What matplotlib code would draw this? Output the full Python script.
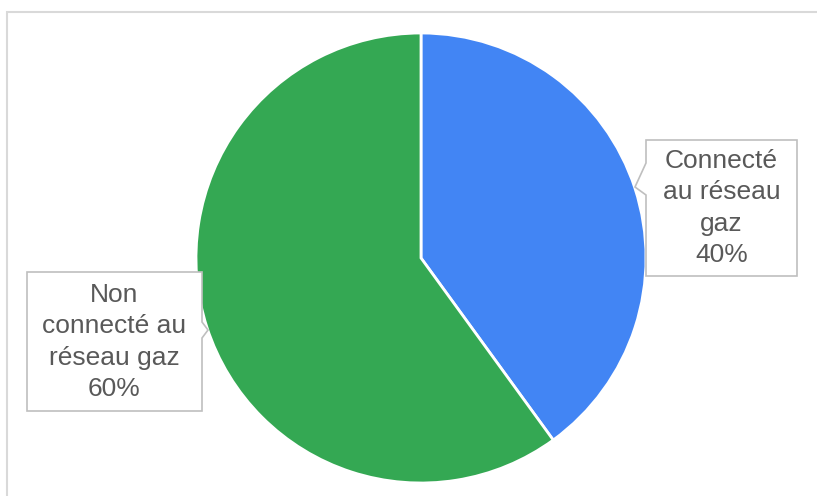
import matplotlib
matplotlib.use('Agg')
import matplotlib.pyplot as plt
from matplotlib.patches import Polygon, Rectangle

# Data
labels = ['Connecté\nau réseau\ngaz\n40%', 'Non\nconnecté au\nréseau gaz\n60%']
values = [40, 60]
colors = ['#4285F4', '#34A853']

W, H = 817, 496
TEXT = '#595959'
BORDER = '#BFBFBF'

fig = plt.figure(figsize=(W / 100, H / 100), dpi=100)
ax = fig.add_axes([0, 0, 1, 1])

ax.pie(values, colors=colors, startangle=90, counterclock=False,
       center=(421, H - 258), radius=225,
       wedgeprops=dict(edgecolor='white', linewidth=2))

# pie() resets the limits, so set them afterwards
ax.set_xlim(0, W)
ax.set_ylim(0, H)
ax.set_aspect('equal')
ax.axis('off')

# outer chart border (image coords -> y flipped)
ax.add_patch(Rectangle((7, -20), W + 20, H - 12 + 20, fill=False,
                       edgecolor='#D9D9D9', linewidth=1.5, zorder=0))


def callout(left, right, top, bottom, notch, text, text_y):
    # notch: list of (x, y) image-coord points inserted in the outline
    pts = [(left, top), (right, top)]
    if notch[0][0] >= right - 1:
        pts += notch
    pts += [(right, bottom), (left, bottom)]
    if notch[0][0] <= left + 1:
        pts += notch[::-1]
    pts = [(x, H - y) for x, y in pts]
    ax.add_patch(Polygon(pts, closed=True, facecolor='white',
                         edgecolor=BORDER, linewidth=1.2, zorder=5))
    ax.text((left + right) / 2, H - text_y, text, ha='center', va='center',
            fontsize=19, color=TEXT, family='Liberation Sans',
            linespacing=1.38, zorder=6)


callout(646, 797, 140, 276, [(646, 163), (635, 187), (646, 195)],
        labels[0], 208)
callout(27, 202, 272, 411, [(202, 322), (208, 330), (202, 338)],
        labels[1], 342)

fig.savefig('out.png', dpi=100, facecolor='white')
